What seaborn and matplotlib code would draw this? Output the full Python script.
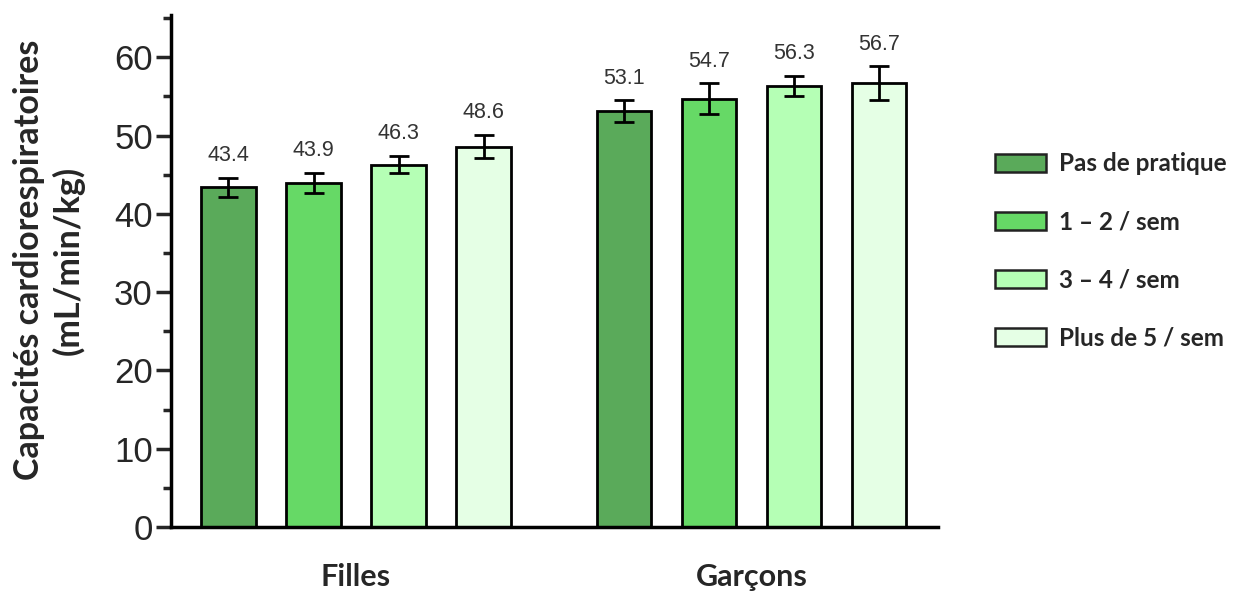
import pandas as pd
import matplotlib
matplotlib.use('Agg')
import matplotlib.pyplot as plt
from matplotlib.ticker import MultipleLocator
import seaborn as sns

# Données
groupes = ['Filles', 'Garçons']
frequences = ['Pas de pratique', '1 – 2 / sem', '3 – 4 / sem', 'Plus de 5 / sem']
filles = [43.4, 43.9, 46.3, 48.6]
garcons = [53.1, 54.7, 56.3, 56.7]
err_filles = [1.2, 1.3, 1.1, 1.45]
err_garcons = [1.4, 1.95, 1.3, 2.15]
couleurs = ['#5aaa5a', '#66d966', '#b5ffb5', '#e5ffe5']

df = pd.DataFrame({
    'groupe': [g for g in groupes for _ in frequences],
    'frequence': frequences * 2,
    'valeur': filles + garcons,
    'erreur': err_filles + err_garcons,
})

sns.set_style('white')
plt.rcParams['font.family'] = ['Liberation Sans', 'DejaVu Sans']

fig = plt.figure(figsize=(12.36, 5.99), dpi=100)
ax = fig.add_axes([0.1383, 0.1202, 0.759 - 0.1383, 0.975 - 0.1202])

sns.barplot(data=df, x='groupe', y='valeur', hue='frequence', hue_order=frequences,
            palette=couleurs, saturation=1, width=0.86, gap=0.36, errorbar=None,
            edgecolor='black', linewidth=2, ax=ax)

# Barres d'erreur et valeurs
conteneurs = list(ax.containers)
for i, cont in enumerate(conteneurs):
    for j, bar in enumerate(cont):
        sub = df[(df['groupe'] == groupes[j]) & (df['frequence'] == frequences[i])].iloc[0]
        xc = bar.get_x() + bar.get_width() / 2
        ax.errorbar(xc, sub['valeur'], yerr=sub['erreur'], fmt='none', ecolor='black',
                    elinewidth=2, capsize=7, capthick=2)
        ax.text(xc, sub['valeur'] + sub['erreur'] + 1.5, f"{sub['valeur']:.1f}",
                ha='center', va='bottom', fontsize=15.5, color='#333333')

ax.set_xlim(-0.468, 1.472)
ax.set_ylim(0, 65.4)
ax.yaxis.set_major_locator(MultipleLocator(10))
ax.yaxis.set_minor_locator(MultipleLocator(5))
ax.tick_params(axis='y', which='major', direction='out', length=11, width=2.5,
               labelsize=25, pad=2, left=True)
ax.tick_params(axis='y', which='minor', direction='out', length=6, width=2.5, left=True)
ax.tick_params(axis='x', length=0, pad=26)
for lab in ax.get_xticklabels():
    lab.set_fontfamily(['Lato', 'DejaVu Sans'])
    lab.set_fontweight('bold')
    lab.set_fontsize(22)

for s in ['top', 'right']:
    ax.spines[s].set_visible(False)
for s in ['left', 'bottom']:
    ax.spines[s].set_linewidth(2.5)
    ax.spines[s].set_color('black')

ax.set_xlabel('')
ax.set_ylabel('Capacités cardiorespiratoires\n(mL/min/kg)', fontsize=24.5, fontweight='bold',
              family=['Lato', 'DejaVu Sans'], linespacing=1.25)
ax.yaxis.set_label_coords(-0.112, 0.521)

handles, labels = ax.get_legend_handles_labels()
ax.legend(handles, labels, loc='center left', bbox_to_anchor=(0.805, 0.581),
          bbox_transform=fig.transFigure, frameon=False, borderpad=0, borderaxespad=0,
          handlelength=2.1, handleheight=0.75, labelspacing=1.45, handletextpad=0.55,
          prop={'family': ['Lato', 'DejaVu Sans'], 'weight': 'bold', 'size': 17.5})
for p in ax.get_legend().get_patches():
    p.set_edgecolor('#222222')
    p.set_linewidth(1.8)

fig.savefig('out.png', dpi=100)
